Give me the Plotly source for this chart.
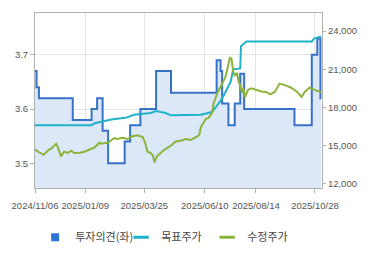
import plotly.graph_objects as go

# 투자의견 (left axis) - step series
opinion_dates = ["2024-11-06", "2024-11-08", "2024-11-11", "2024-12-24", "2025-01-17", "2025-01-24",
                 "2025-01-31", "2025-02-07", "2025-02-28", "2025-03-07", "2025-03-20", "2025-04-09",
                 "2025-04-28", "2025-06-25", "2025-06-30", "2025-07-02", "2025-07-10", "2025-07-18",
                 "2025-07-25", "2025-07-30", "2025-10-02", "2025-10-24", "2025-10-31", "2025-11-04",
                 "2025-11-05"]
opinion_values = [3.67, 3.64, 3.62, 3.58, 3.60, 3.62,
                  3.56, 3.50, 3.54, 3.57, 3.60, 3.67,
                  3.63, 3.69, 3.67, 3.61, 3.57, 3.61,
                  3.665, 3.60, 3.57, 3.70, 3.73, 3.62,
                  3.62]

# 목표주가 (right axis)
target_dates = ["2024-11-06", "2025-01-17", "2025-01-21", "2025-01-29", "2025-02-04", "2025-02-11",
                "2025-02-21", "2025-03-02", "2025-03-12", "2025-03-21", "2025-04-02", "2025-04-09",
                "2025-04-21", "2025-04-28", "2025-06-05", "2025-06-19", "2025-06-23", "2025-06-30",
                "2025-07-06", "2025-07-13", "2025-07-16", "2025-07-25", "2025-07-26", "2025-08-02",
                "2025-10-24", "2025-10-27", "2025-11-03", "2025-11-05"]
target_values = [16610, 16610, 16760, 16870, 16980, 17050,
                 17125, 17200, 17420, 17490, 17560, 17710,
                 17560, 17380, 17420, 17640, 17930, 18510,
                 19170, 20050, 20990, 21060, 22810, 23180,
                 23180, 23400, 23540, 23540]

# 수정주가 (right axis)
price_dates = ["2024-11-06", "2024-11-10", "2024-11-17", "2024-11-23", "2024-11-27", "2024-12-03",
               "2024-12-05", "2024-12-09", "2024-12-13", "2024-12-18", "2024-12-22", "2024-12-26",
               "2025-01-02", "2025-01-08", "2025-01-15", "2025-01-21", "2025-01-27", "2025-01-29",
               "2025-02-07", "2025-02-15", "2025-02-19", "2025-02-25", "2025-03-04", "2025-03-10",
               "2025-03-16", "2025-03-23", "2025-03-26", "2025-03-29", "2025-04-02", "2025-04-05",
               "2025-04-07", "2025-04-10", "2025-04-19", "2025-04-28", "2025-05-04", "2025-05-10",
               "2025-05-17", "2025-05-23", "2025-06-01", "2025-06-03", "2025-06-05", "2025-06-07",
               "2025-06-11", "2025-06-15", "2025-06-19", "2025-06-21", "2025-06-24", "2025-06-26",
               "2025-06-30", "2025-07-04", "2025-07-06", "2025-07-08", "2025-07-10", "2025-07-12",
               "2025-07-14", "2025-07-16", "2025-07-18", "2025-07-21", "2025-07-23", "2025-07-25",
               "2025-07-27", "2025-07-29", "2025-07-31", "2025-08-04", "2025-08-08", "2025-08-15",
               "2025-08-21", "2025-08-27", "2025-09-01", "2025-09-07", "2025-09-13", "2025-09-20",
               "2025-09-28", "2025-10-05", "2025-10-11", "2025-10-15", "2025-10-21", "2025-10-25",
               "2025-10-30", "2025-11-03", "2025-11-05"]
price_values = [14720, 14520, 14280, 14650, 14790, 15160,
                14890, 14160, 14520, 14430, 14600, 14430,
                14450, 14520, 14720, 14870, 15250, 15160,
                15250, 15600, 15520, 15620, 15520, 15740,
                15810, 15670, 15250, 14520, 14430, 14210,
                13680, 14160, 14650, 15010, 15330, 15380,
                15520, 15450, 15740, 15870, 16470, 16710,
                17080, 17200, 17560, 18290, 18780, 19150,
                19630, 20110, 20360, 20840, 21330, 21940,
                21790, 20840, 20480, 20720, 19990, 19750,
                19150, 19530, 18800, 19390, 19510, 19390,
                19260, 19220, 19020, 19220, 19870, 19750,
                19550, 19240, 18820, 19220, 19550, 19460,
                19310, 19260, 19240]

tick_dates = ["2024-11-06", "2025-01-09", "2025-03-25", "2025-06-10", "2025-08-14", "2025-10-28"]
left_ticks = [3.5, 3.6, 3.7]
right_ticks = [12000, 15000, 18000, 21000, 24000]

BLUE = "#3771c8"
TEAL = "#1fb2c8"
GREEN = "#8cb43c"
FILL = "#dce7f7"

fig = go.Figure()

fig.add_trace(go.Scatter(
    x=opinion_dates, y=opinion_values, mode="lines", line=dict(color=BLUE, width=2, shape="hv"),
    fill="tozeroy", fillcolor=FILL, showlegend=False, yaxis="y", hoverinfo="skip"))
fig.add_trace(go.Scatter(
    x=target_dates, y=target_values, mode="lines", line=dict(color=TEAL, width=2),
    showlegend=False, yaxis="y2"))
fig.add_trace(go.Scatter(
    x=price_dates, y=price_values, mode="lines", line=dict(color=GREEN, width=2),
    showlegend=False, yaxis="y2"))

# legend entries
fig.add_trace(go.Scatter(x=[None], y=[None], mode="markers", name="투자의견(좌)",
                         marker=dict(symbol="square", size=8, color="#2f74d8")))
fig.add_trace(go.Scatter(x=[None], y=[None], mode="markers", name="목표주가",
                         marker=dict(symbol="line-ew", size=11, line=dict(color=TEAL, width=3))))
fig.add_trace(go.Scatter(x=[None], y=[None], mode="markers", name="수정주가",
                         marker=dict(symbol="line-ew", size=11, line=dict(color=GREEN, width=3))))

tickfont = dict(family="Liberation Sans, Arial, sans-serif", size=9.5, color="#555555")

fig.update_layout(
    width=370, height=255,
    margin=dict(l=33, r=48, t=12, b=54),
    paper_bgcolor="white", plot_bgcolor="white",
    showlegend=True,
    legend=dict(orientation="h", x=0.095, xanchor="left", xref="container", y=0.07, yanchor="middle",
                yref="container",
                font=dict(family="Noto Sans CJK KR", size=11, color="#444444"),
                itemwidth=30, entrywidth=41, tracegroupgap=0, bgcolor="rgba(0,0,0,0)"),
    xaxis=dict(type="date", range=["2024-11-06", "2025-11-06"], tickvals=tick_dates,
               tickformat="%Y/%m/%d", tickfont=tickfont, showgrid=True, gridcolor="#e4e4e4",
               showline=True, linecolor="#b0b0b0", mirror=True, ticks="outside", ticklen=4,
               tickcolor="#b0b0b0", zeroline=False, ticklabelstandoff=4),
    yaxis=dict(range=[3.454, 3.777], tickvals=left_ticks, tickformat=".1f", tickfont=tickfont,
               showgrid=True, gridcolor="#e4e4e4", showline=True, linecolor="#b0b0b0",
               ticks="outside", ticklen=4, tickcolor="#b0b0b0", zeroline=False),
    yaxis2=dict(range=[11657, 25414], tickvals=right_ticks, tickformat=",d", tickfont=tickfont,
                overlaying="y", side="right", showgrid=False, showline=True, linecolor="#b0b0b0",
                ticks="outside", ticklen=3, tickcolor="#b0b0b0", zeroline=False),
)

fig.write_html("out.html")
